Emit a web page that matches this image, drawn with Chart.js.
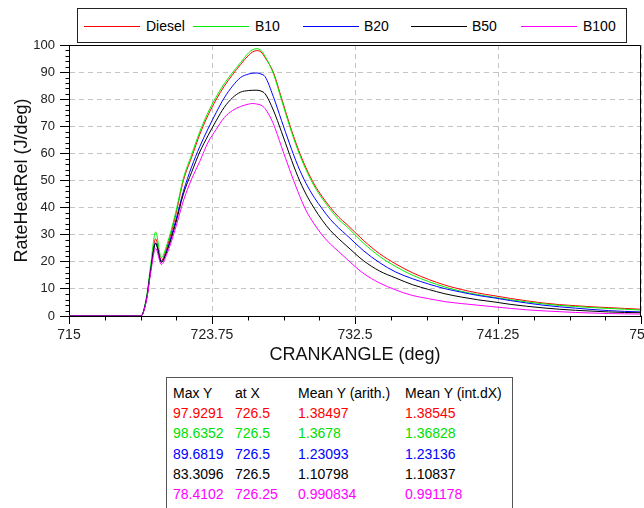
<!DOCTYPE html>
<html>
<head>
<meta charset="utf-8">
<script src="https://cdn.jsdelivr.net/npm/chart.js@4/dist/chart.umd.min.js"></script>
<style>
html,body{margin:0;padding:0;background:#fff;overflow:hidden;width:644px;height:508px;}
#wrap{position:relative;width:644px;height:508px;overflow:hidden;font-family:'Liberation Sans',Arial,sans-serif;color:#000;}
#c{position:absolute;left:0;top:0;}
.box{position:absolute;box-sizing:border-box;border:1px solid #222;background:#fff;}
.lline{position:absolute;height:1px;}
.ltxt{position:absolute;font-size:14px;line-height:16px;height:16px;white-space:nowrap;}
.cell{position:absolute;font-size:14px;line-height:16px;height:16px;white-space:nowrap;}
</style>
</head>
<body>
<div id="wrap">
  <canvas id="c" width="700" height="370"></canvas>
  <div id="legend" class="box" style="left:77px;top:8px;width:550px;height:35px;"></div>
  <div id="stats" class="box" style="left:166px;top:377px;width:347px;height:140px;border-color:#555;"></div>
</div>
<script>
// ---------------- DATA ----------------
const crankAngle = [715, 719.4, 719.75, 720, 720.3, 720.65, 721, 721.5, 722, 722.5,
  723, 723.5, 724, 724.5, 725, 725.5, 726, 726.25, 726.5, 726.75,
  727, 727.5, 728, 728.5, 729, 729.5, 730, 730.5, 731, 731.5,
  732, 733, 734, 735, 736, 737, 738, 739, 740, 741,
  742, 743, 744, 745, 746, 747, 748, 749, 750];

const seriesNames = ['Diesel', 'B10', 'B20', 'B50', 'B100'];

const diesel = [0, 0, 6.5, 17.5, 28.5, 20.5, 25.5, 36.5, 50, 58.5,
  67, 74, 79.8, 84.8, 89, 92.8, 96.3, 97.5, 97.93, 97.4,
  95.3, 90, 80.5, 70.7, 62, 54.7, 48.7, 44, 40, 36.5,
  33.8, 28, 23, 19.2, 16, 13.5, 11.4, 9.8, 8.5, 7.5,
  6.5, 5.6, 4.8, 4.2, 3.8, 3.4, 3.1, 2.8, 2.5];
const b10 = [0, 0, 7.5, 19, 31, 21.5, 26.5, 37.5, 50.8, 59.5,
  68, 75, 80.8, 85.7, 89.8, 93.5, 97.2, 98.3, 98.64, 98,
  95.8, 89.5, 79.8, 70, 61.3, 54, 48, 43.3, 39.2, 35.6,
  33, 27, 22, 18.2, 15.1, 12.7, 10.7, 9.1, 7.9, 6.9,
  6.0, 5.2, 4.5, 3.9, 3.5, 3.1, 2.8, 2.5, 2.2];
const b20 = [0, 0, 6.5, 17, 27, 20, 24.5, 34.5, 46, 55,
  62.5, 69, 75, 80.5, 84.8, 88, 89.3, 89.6, 89.68, 89.3,
  88.3, 81, 72.2, 63.5, 55.5, 49, 43.8, 39.5, 35.6, 32.5,
  29.8, 24.2, 19.7, 16.2, 13.8, 11.8, 10.1, 8.8, 7.6, 6.7,
  5.7, 4.8, 4.0, 3.4, 2.9, 2.4, 2.0, 1.7, 1.5];
const b50 = [0, 0, 6.5, 17, 26.8, 19.8, 24, 33.5, 45, 53,
  60.5, 66.5, 72, 77, 80.5, 82.6, 83.2, 83.3, 83.31, 83,
  82, 76, 68, 59.5, 51.5, 45, 39.8, 35.3, 31.5, 28.5,
  25.8, 20.5, 16.6, 14, 11.6, 9.8, 8.2, 7.0, 6.0, 5.2,
  4.3, 3.6, 3.0, 2.5, 2.1, 1.8, 1.5, 1.3, 1.2];
const b100 = [0, 0, 6, 16, 25, 19, 23, 32, 42.5, 50.5,
  57, 64, 68.8, 73.2, 75.8, 77.3, 78.2, 78.41, 78.2, 77.8,
  76.5, 71, 62.5, 54, 46, 39, 34, 29.8, 26.5, 23.8,
  21, 15.8, 12.2, 9.6, 7.6, 6.4, 5.3, 4.6, 4.0, 3.4,
  2.8, 2.3, 1.9, 1.6, 1.3, 1.1, 0.9, 0.8, 0.7];

const xTicks = [715, 723.75, 732.5, 741.25, 750];
const xTickLabels = ['715', '723.75', '732.5', '741.25', '750'];
const yTicks = [0, 10, 20, 30, 40, 50, 60, 70, 80, 90, 100];
const yTickLabels = ['0', '10', '20', '30', '40', '50', '60', '70', '80', '90', '100'];

const statHeaders = ['Max Y', 'at X', 'Mean Y (arith.)', 'Mean Y (int.dX)'];
const statMaxY = ['97.9291', '98.6352', '89.6819', '83.3096', '78.4102'];
const statAtX = ['726.5', '726.5', '726.5', '726.5', '726.25'];
const statMeanArith = ['1.38497', '1.3678', '1.23093', '1.10798', '0.990834'];
const statMeanInt = ['1.38545', '1.36828', '1.23136', '1.10837', '0.991178'];

// ---------------- STYLE / LAYOUT ----------------
const seriesValues = [diesel, b10, b20, b50, b100];
const colors = ['#ff0000', '#00ee00', '#0000ff', '#000000', '#ff00ff'];
const FONT = "'Liberation Sans', Arial, sans-serif";
const legendLineX = [84, 193, 303, 411, 521];
const legendTextX = [146, 255, 364, 472, 583];
const statColX = [173, 235, 298, 405];
const statRowY = [392.7, 413, 433.3, 453.6, 473.9, 494.2];

// legend (HTML)
const legend = document.getElementById('legend');
const wrap = document.getElementById('wrap');
seriesNames.forEach((n, i) => {
  const l = document.createElement('div');
  l.className = 'lline';
  l.style.left = legendLineX[i] + 'px'; l.style.top = '26px';
  l.style.width = '56px'; l.style.background = colors[i];
  wrap.appendChild(l);
  const t = document.createElement('div');
  t.className = 'ltxt';
  t.style.left = legendTextX[i] + 'px'; t.style.top = '18px';
  t.textContent = n;
  wrap.appendChild(t);
});

// stats table (HTML)
function addCell(text, x, yc, color) {
  const d = document.createElement('div');
  d.className = 'cell';
  d.style.left = x + 'px'; d.style.top = (yc - 8) + 'px';
  d.style.color = color; d.textContent = text;
  wrap.appendChild(d);
}
statHeaders.forEach((h, j) => addCell(h, statColX[j], statRowY[0], '#000'));
seriesNames.forEach((n, i) => {
  const cols = [statMaxY[i], statAtX[i], statMeanArith[i], statMeanInt[i]];
  cols.forEach((v, j) => addCell(v, statColX[j], statRowY[i + 1], i === 1 ? '#00e000' : colors[i]));
});

// frame + minor ticks plugin
const framePlugin = {
  id: 'frame',
  afterDraw(chart) {
    const {ctx, chartArea: a, scales: {x, y}} = chart;
    const L = Math.round(a.left) + 0.5, R = Math.round(a.right) - 0.5;
    const T = Math.round(a.top) + 0.5, B = Math.round(a.bottom) + 0.5;
    ctx.save();
    ctx.strokeStyle = '#000'; ctx.lineWidth = 1;
    ctx.beginPath();
    ctx.moveTo(L, T); ctx.lineTo(R, T); ctx.lineTo(R, B);
    // minor x ticks
    for (let k = 0; k <= 16; k++) {
      if (k % 4 === 0) continue;
      const px = Math.round(x.getPixelForValue(715 + k * 2.1875)) + 0.5;
      ctx.moveTo(px, B); ctx.lineTo(px, B + 4);
    }
    // minor y ticks
    for (let v = 0; v <= 100; v += 2) {
      if (v % 10 === 0) continue;
      const py = Math.round(y.getPixelForValue(v)) + 0.5;
      ctx.moveTo(L - 4, py); ctx.lineTo(L, py);
    }
    ctx.stroke();
    ctx.restore();
  }
};

const datasets = seriesNames.map((n, i) => ({
  label: n,
  data: crankAngle.map((xv, j) => ({x: xv, y: seriesValues[i][j]})),
  borderColor: colors[i],
  backgroundColor: colors[i],
  borderWidth: 1,
  pointRadius: 0,
  fill: false,
  cubicInterpolationMode: 'monotone',
  order: 5 - i
}));

new Chart(document.getElementById('c'), {
  type: 'line',
  data: {datasets},
  options: {
    responsive: false,
    animation: false,
    devicePixelRatio: 1,
    layout: {padding: {left: 0, right: 59, top: 45, bottom: 0}},
    plugins: {legend: {display: false}, tooltip: {enabled: false}},
    scales: {
      x: {
        type: 'linear', min: 715, max: 750,
        afterBuildTicks: s => { s.ticks = xTicks.map(v => ({value: v})); },
        afterFit: s => { s.height = 54; },
        ticks: {callback: (v, i) => xTickLabels[i], font: {family: FONT, size: 14}, color: '#222', padding: 3, maxRotation: 0, autoSkip: false},
        grid: {color: '#c4c4c4', lineWidth: 1, tickColor: '#000', tickLength: 8},
        border: {color: '#000', width: 1, dash: [5, 4]},
        title: {display: true, text: 'CRANKANGLE (deg)', font: {family: FONT, size: 18}, color: '#111', padding: {top: 0, bottom: 4}}
      },
      y: {
        type: 'linear', min: 0, max: 100,
        afterBuildTicks: s => { s.ticks = yTicks.map(v => ({value: v})); },
        afterFit: s => { s.width = 69; },
        ticks: {callback: (v, i) => yTickLabels[i], font: {family: FONT, size: 13}, color: '#222', padding: 5, autoSkip: false},
        grid: {color: '#c4c4c4', lineWidth: 1, tickColor: '#000', tickLength: 9},
        border: {color: '#000', width: 1, dash: [5, 4]},
        title: {display: true, text: 'RateHeatRel (J/deg)', font: {family: FONT, size: 18}, color: '#111', padding: {top: 11, bottom: 0}}
      }
    }
  },
  plugins: [framePlugin]
});
</script>
</body>
</html>
